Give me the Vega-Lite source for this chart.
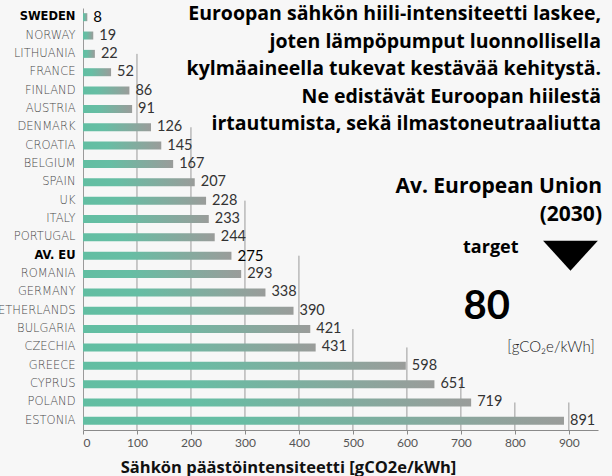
{
  "$schema": "https://vega.github.io/schema/vega-lite/v6.json",
  "width": 515,
  "height": 422,
  "autosize": "none",
  "padding": {"left": 83, "top": 8, "right": 14, "bottom": 46},
  "background": "#f7f7f7",
  "config": {"view": {"stroke": null}, "font": "Lato"},
  "datasets": {
    "bars": [
      {"country": "SWEDEN", "value": 8},
      {"country": "NORWAY", "value": 19},
      {"country": "LITHUANIA", "value": 22},
      {"country": "FRANCE", "value": 52},
      {"country": "FINLAND", "value": 86},
      {"country": "AUSTRIA", "value": 91},
      {"country": "DENMARK", "value": 126},
      {"country": "CROATIA", "value": 145},
      {"country": "BELGIUM", "value": 167},
      {"country": "SPAIN", "value": 207},
      {"country": "UK", "value": 228},
      {"country": "ITALY", "value": 233},
      {"country": "PORTUGAL", "value": 244},
      {"country": "AV. EU", "value": 275},
      {"country": "ROMANIA", "value": 293},
      {"country": "GERMANY", "value": 338},
      {"country": "NETHERLANDS", "value": 390},
      {"country": "BULGARIA", "value": 421},
      {"country": "CZECHIA", "value": 431},
      {"country": "GREECE", "value": 598},
      {"country": "CYPRUS", "value": 651},
      {"country": "POLAND", "value": 719},
      {"country": "ESTONIA", "value": 891}
    ],
    "grid": [
      {"x": 100, "start": "LITHUANIA"},
      {"x": 200, "start": "DENMARK"},
      {"x": 300, "start": "UK"},
      {"x": 400, "start": "AV. EU"},
      {"x": 500, "start": "BULGARIA"},
      {"x": 600, "start": "CZECHIA"},
      {"x": 700, "start": "CYPRUS"},
      {"x": 800, "start": "POLAND"},
      {"x": 900, "start": "POLAND"}
    ],
    "one": [{"k": 1}]
  },
  "layer": [
    {
      "data": {"name": "grid"},
      "mark": {"type": "rule", "color": "#9a9a9a", "strokeWidth": 1},
      "encoding": {
        "x": {"field": "x", "type": "quantitative", "scale": {"domain": [0, 954], "nice": false, "zero": true}},
        "y": {"field": "start", "type": "nominal", "scale": {"domain": ["SWEDEN","NORWAY","LITHUANIA","FRANCE","FINLAND","AUSTRIA","DENMARK","CROATIA","BELGIUM","SPAIN","UK","ITALY","PORTUGAL","AV. EU","ROMANIA","GERMANY","NETHERLANDS","BULGARIA","CZECHIA","GREECE","CYPRUS","POLAND","ESTONIA"], "paddingInner": 0, "paddingOuter": 0}},
        "y2": {"value": "height"}
      }
    },
    {
      "data": {"name": "bars"},
      "mark": {"type": "bar", "size": 8, "color": {"gradient": "linear", "x1": 0, "y1": 0, "x2": 1, "y2": 0, "stops": [{"offset": 0, "color": "#62bea2"}, {"offset": 0.3, "color": "#66bea4"}, {"offset": 1, "color": "#9a9c9a"}]}},
      "encoding": {
        "x": {"field": "value", "type": "quantitative", "scale": {"domain": [0, 954], "nice": false},
          "axis": {"values": [0,100,200,300,400,500,600,700,800,900], "grid": false, "domainColor": "#8a8a8a", "tickColor": "#8a8a8a", "tickSize": 4, "labelFontSize": 12, "labelColor": "#555", "labelFont": "Lato", "labelPadding": 3,
            "title": "Sähkön päästöintensiteetti [gCO2e/kWh]", "titleFont": "Open Sans", "titleFontSize": 16.5, "titleFontWeight": "bold", "titleColor": "#111", "titleX": 205, "titleY": 42, "titleBaseline": "alphabetic", "titleAlign": "center"}},
        "y": {"field": "country", "type": "nominal", "scale": {"domain": ["SWEDEN","NORWAY","LITHUANIA","FRANCE","FINLAND","AUSTRIA","DENMARK","CROATIA","BELGIUM","SPAIN","UK","ITALY","PORTUGAL","AV. EU","ROMANIA","GERMANY","NETHERLANDS","BULGARIA","CZECHIA","GREECE","CYPRUS","POLAND","ESTONIA"], "paddingInner": 0, "paddingOuter": 0},
          "axis": {"title": null, "ticks": false, "domainColor": "#9a9a9a", "labelPadding": 8, "labelFont": "DejaVu Sans", "labelFontSize": 11.5, "labelFontWeight": {"condition": {"test": "datum.value == 'SWEDEN' || datum.value == 'AV. EU'", "value": "bold"}, "value": 300}, "labelColor": {"condition": {"test": "datum.value == 'SWEDEN' || datum.value == 'AV. EU'", "value": "#000"}, "value": "#4a4a4a"}}}
      }
    },
    {
      "data": {"name": "bars"},
      "mark": {"type": "text", "align": "left", "baseline": "middle", "dx": 6, "fontSize": 14, "color": "#333"},
      "encoding": {
        "x": {"field": "value", "type": "quantitative"},
        "y": {"field": "country", "type": "nominal"},
        "text": {"field": "value", "type": "quantitative"},
        "fontWeight": {"condition": {"test": "datum.country == 'SWEDEN' || datum.country == 'AV. EU'", "value": "bold"}, "value": 300},
        "size": {"condition": {"test": "datum.country == 'SWEDEN' || datum.country == 'AV. EU'", "value": 15}, "value": 14.5},
        "color": {"condition": {"test": "datum.country == 'SWEDEN' || datum.country == 'AV. EU'", "value": "#000"}, "value": "#333"}
      }
    },
    {
      "data": {"name": "one"},
      "mark": {"type": "text", "align": "right", "baseline": "alphabetic", "lineBreak": "\n", "lineHeight": 27.5, "font": "Open Sans", "fontSize": 19.5, "fontWeight": "bold", "color": "#000", "dx": 3, "dy": 3},
      "encoding": {
        "x": {"datum": 954, "type": "quantitative"},
        "y": {"datum": "SWEDEN", "type": "nominal"},
        "text": {"value": "Euroopan sähkön hiili-intensiteetti laskee,\njoten lämpöpumput luonnollisella\nkylmäaineella tukevat kestävää kehitystä.\nNe edistävät Euroopan hiilestä\nirtautumista, sekä ilmastoneutraaliutta"}
      }
    },
    {
      "data": {"name": "one"},
      "mark": {"type": "text", "align": "right", "baseline": "alphabetic", "lineBreak": "\n", "lineHeight": 28, "font": "Open Sans", "fontSize": 21, "fontWeight": "bold", "color": "#000", "dx": 4, "dy": 11},
      "encoding": {
        "x": {"datum": 954, "type": "quantitative"},
        "y": {"datum": "SPAIN", "type": "nominal"},
        "text": {"value": "Av. European Union\n(2030)"}
      }
    },
    {
      "data": {"name": "one"},
      "mark": {"type": "text", "align": "left", "baseline": "alphabetic", "font": "Open Sans", "fontSize": 18, "fontWeight": "bold", "color": "#000", "dy": -3},
      "encoding": {
        "x": {"datum": 704, "type": "quantitative"},
        "y": {"datum": "AV. EU", "type": "nominal"},
        "text": {"value": "target"}
      }
    },
    {
      "data": {"name": "one"},
      "mark": {"type": "point", "shape": "M-1,-0.55L1,-0.55L0,0.55Z", "size": 3000, "filled": true, "color": "#000", "opacity": 1, "strokeWidth": 0},
      "encoding": {
        "x": {"datum": 903, "type": "quantitative"},
        "y": {"datum": "AV. EU", "type": "nominal"}
      }
    },
    {
      "data": {"name": "one"},
      "mark": {"type": "text", "align": "center", "baseline": "alphabetic", "fontSize": 40, "fontWeight": "bold", "color": "#000", "dy": 8},
      "encoding": {
        "x": {"datum": 748, "type": "quantitative"},
        "y": {"datum": "NETHERLANDS", "type": "nominal"},
        "text": {"value": "80"}
      }
    },
    {
      "data": {"name": "one"},
      "mark": {"type": "text", "align": "right", "baseline": "alphabetic", "fontSize": 15, "fontWeight": 300, "color": "#222", "dy": 5},
      "encoding": {
        "x": {"datum": 948, "type": "quantitative"},
        "y": {"datum": "CZECHIA", "type": "nominal"},
        "text": {"value": "[gCO₂e/kWh]"}
      }
    }
  ]
}
